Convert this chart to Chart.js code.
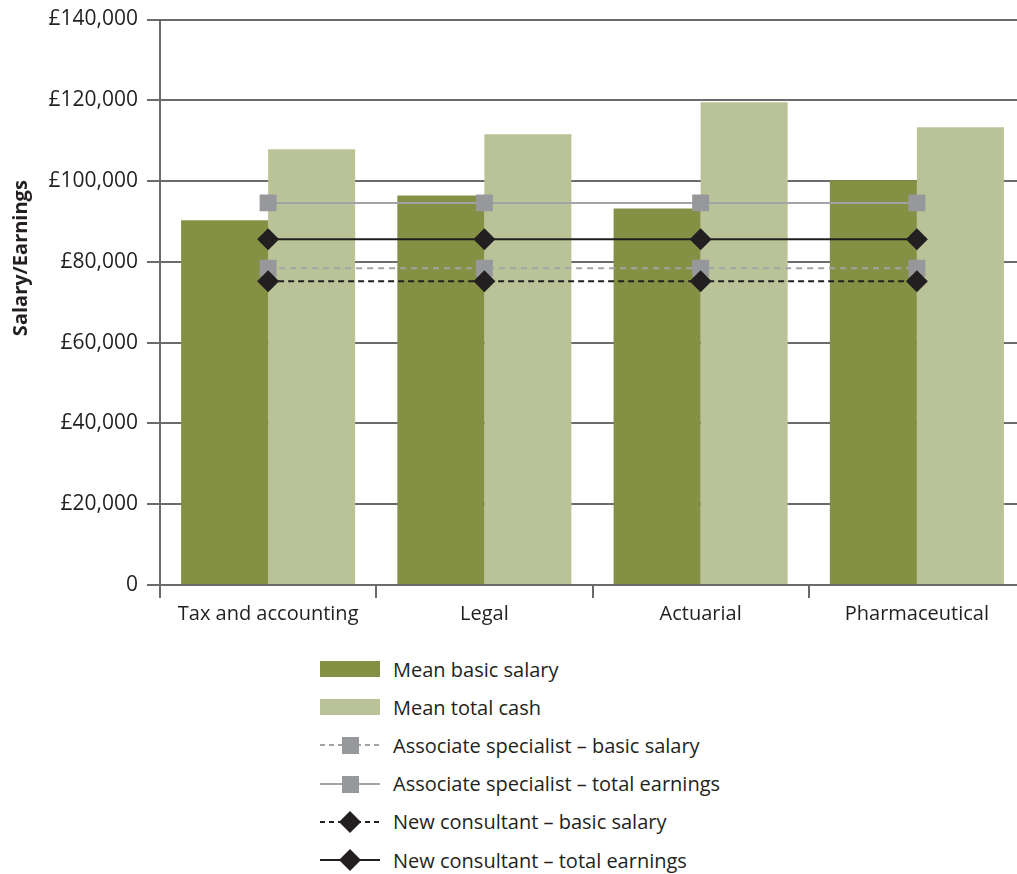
<!DOCTYPE html>
<html>
<head>
<meta charset="utf-8">
<script src="https://cdn.jsdelivr.net/npm/chart.js@4"></script>
<style>
  html, body { margin: 0; padding: 0; background: #fff; overflow: hidden; }
  #wrap { position: relative; width: 1040px; height: 640px; }
  #legend { position: absolute; left: 320px; top: 650px; font-family: "Open Sans", sans-serif; font-size: 20px; color: #231f20; }
  .row { display: flex; align-items: center; height: 38.2px; }
  .row svg { width: 60px; height: 26px; margin-right: 13px; flex: none; }
</style>
</head>
<body>
<div id="wrap"><canvas id="chart"></canvas></div>
<div id="legend"></div>
<script>
const categories = ['Tax and accounting', 'Legal', 'Actuarial', 'Pharmaceutical'];
const meanBasicSalary = [90300, 96400, 93200, 100200];
const meanTotalCash = [107900, 111600, 119500, 113300];
const associateBasic = [78400, 78400, 78400, 78400];
const associateTotal = [94600, 94600, 94600, 94600];
const consultantBasic = [75200, 75200, 75200, 75200];
const consultantTotal = [85600, 85600, 85600, 85600];

const DARK_GREEN = '#849145';
const LIGHT_GREEN = '#bac297';
const GREY = '#a3a4a6';
const GREY_MARK = '#97989c';
const BLACK = '#231f20';
const AXIS = '#6b6b6b';
const FONT = '"Open Sans", sans-serif';

const yTitle = {
  id: 'yTitle',
  afterDraw(c) {
    const { ctx, chartArea } = c;
    ctx.save();
    ctx.translate(21, chartArea.top + (chartArea.bottom - chartArea.top) * 0.422);
    ctx.rotate(-Math.PI / 2);
    ctx.font = `bold 20px ${FONT}`;
    ctx.fillStyle = BLACK;
    ctx.textAlign = 'center';
    ctx.textBaseline = 'middle';
    ctx.fillText('Salary/Earnings', 0, 0);
    ctx.restore();
  }
};

function lineSet(label, data, color, dash, style, radius, order) {
  return {
    type: 'line', label, data, order,
    borderColor: color, borderWidth: 2, borderDash: dash,
    pointStyle: style, pointRadius: radius, pointHoverRadius: radius,
    pointBackgroundColor: style === 'rect' ? GREY_MARK : BLACK,
    pointBorderWidth: 0, fill: false
  };
}

new Chart(document.getElementById('chart'), {
  type: 'bar',
  data: {
    labels: categories,
    datasets: [
      { label: 'Mean basic salary', data: meanBasicSalary, backgroundColor: DARK_GREEN, order: 10 },
      { label: 'Mean total cash', data: meanTotalCash, backgroundColor: LIGHT_GREEN, order: 10 },
      lineSet('Associate specialist – basic salary', associateBasic, GREY, [6, 5], 'rect', 12, 4),
      lineSet('Associate specialist – total earnings', associateTotal, GREY, [], 'rect', 12, 3),
      lineSet('New consultant – basic salary', consultantBasic, BLACK, [6, 4], 'rectRot', 11, 2),
      lineSet('New consultant – total earnings', consultantTotal, BLACK, [], 'rectRot', 11, 1)
    ]
  },
  options: {
    responsive: true,
    maintainAspectRatio: false,
    animation: false,
    datasets: { bar: { categoryPercentage: 0.805, barPercentage: 1.0 } },
    layout: { padding: { top: 19, right: 15, left: 0, bottom: 0 } },
    plugins: { legend: { display: false }, tooltip: { enabled: false } },
    scales: {
      x: {
        grid: { offset: true, drawOnChartArea: false, drawTicks: true, tickLength: 13, color: AXIS, lineWidth: 2 },
        border: { color: AXIS, width: 2 },
        ticks: { color: BLACK, font: { family: FONT, size: 20 }, padding: 4, maxRotation: 0 },
        afterFit(s) { s.height = 55; }
      },
      y: {
        min: 0, max: 140000,
        grid: { color: AXIS, lineWidth: 2, tickLength: 13 },
        border: { color: AXIS, width: 2 },
        ticks: {
          stepSize: 20000, color: BLACK, padding: 9,
          font: { family: FONT, size: 21, lineHeight: 1 },
          callback: v => v === 0 ? '0' : '£' + v.toLocaleString('en-GB')
        },
        afterFit(s) { s.width = 160; }
      }
    }
  },
  plugins: [yTitle]
});

// legend drawn as HTML rows
const legendItems = [
  { label: 'Mean basic salary', kind: 'bar', color: DARK_GREEN },
  { label: 'Mean total cash', kind: 'bar', color: LIGHT_GREEN },
  { label: 'Associate specialist – basic salary', kind: 'rect', color: GREY, dash: '5,4' },
  { label: 'Associate specialist – total earnings', kind: 'rect', color: GREY, dash: '' },
  { label: 'New consultant – basic salary', kind: 'diamond', color: BLACK, dash: '5,4' },
  { label: 'New consultant – total earnings', kind: 'diamond', color: BLACK, dash: '' }
];
const legend = document.getElementById('legend');
legendItems.forEach(item => {
  let icon;
  if (item.kind === 'bar') {
    icon = `<rect x="0" y="5" width="60" height="16" fill="${item.color}"/>`;
  } else {
    const line = `<line x1="0" y1="13" x2="60" y2="13" stroke="${item.color}" stroke-width="2" stroke-dasharray="${item.dash}"/>`;
    const mark = item.kind === 'rect'
      ? `<rect x="22" y="5" width="17" height="17" fill="${GREY_MARK}"/>`
      : `<polygon points="30,2 41,13 30,24 19,13" fill="${BLACK}"/>`;
    icon = line + mark;
  }
  const row = document.createElement('div');
  row.className = 'row';
  row.innerHTML = `<svg viewBox="0 0 60 26">${icon}</svg><span>${item.label}</span>`;
  legend.appendChild(row);
});
</script>
</body>
</html>
